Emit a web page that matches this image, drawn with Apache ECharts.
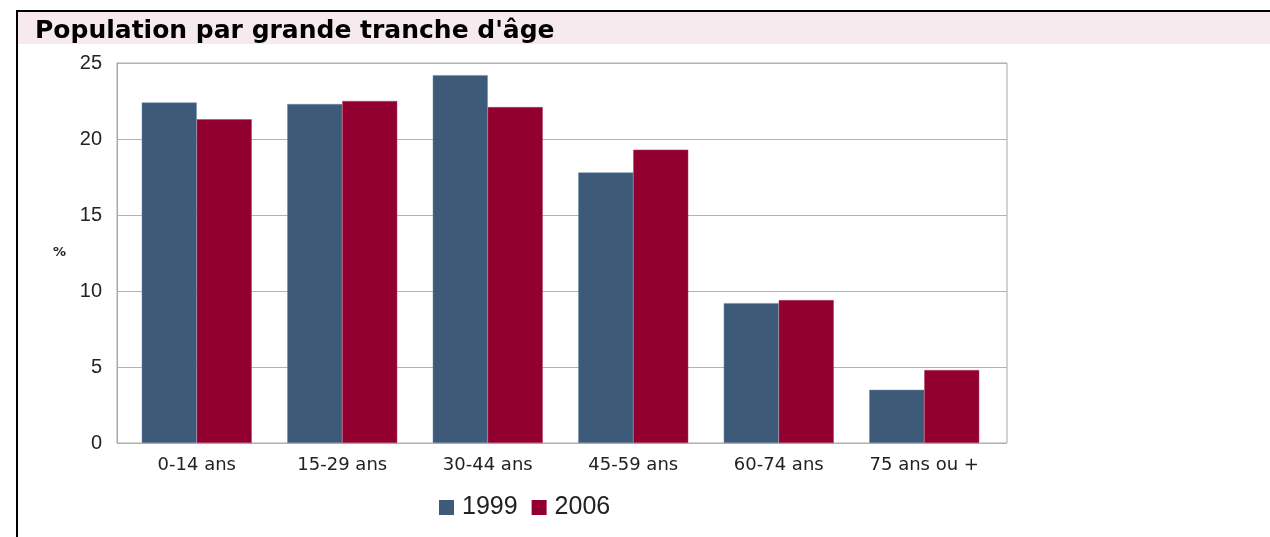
<!DOCTYPE html>
<html><head><meta charset="utf-8">
<script src="https://cdn.jsdelivr.net/npm/echarts@6/dist/echarts.min.js"></script>
<style>html,body{margin:0;padding:0;background:#fff}#c{width:1270px;height:537px}</style>
</head><body><div id="c"></div>
<script>
const categories = ['0-14 ans','15-29 ans','30-44 ans','45-59 ans','60-74 ans','75 ans ou +'];
const values1999 = [22.4, 22.3, 24.2, 17.8, 9.2, 3.5];
const values2006 = [21.3, 22.5, 22.1, 19.3, 9.4, 4.8];
const seriesNames = ['1999','2006'];
const yTicks = {min:0, max:25, interval:5};

const chart = echarts.init(document.getElementById('c'));
chart.setOption({
  animation:false,
  graphic:[
    {type:'rect', shape:{x:18,y:12,width:1252,height:32}, style:{fill:'#f6eaee'}, z:0},
    {type:'rect', shape:{x:17,y:10,width:1253,height:2}, style:{fill:'#000'}, z:1},
    {type:'rect', shape:{x:16,y:10,width:2,height:527}, style:{fill:'#000'}, z:1},
    {type:'text', left:35, top:19, style:{text:"Population par grande tranche d'âge", font:'bold 25px "DejaVu Sans"', fill:'#000'}, z:2},
    {type:'text', left:53, top:246, style:{text:'%', font:'bold 13px "DejaVu Sans"', fill:'#222'}, z:2}
  ],
  grid:[
    {left:117, right:263, top:63, bottom:94, show:true, borderColor:'#a8a8a0', borderWidth:1, backgroundColor:'#fff'},
    {left:124, right:273, top:63, bottom:94}
  ],
  legend:{left:434, top:490, itemWidth:15, itemHeight:15, itemGap:14, icon:'rect',
    itemStyle:{borderWidth:0},
    textStyle:{fontFamily:'Liberation Sans', fontSize:25, color:'#222', padding:[0,0,0,3]},
    data:seriesNames},
  xAxis:[
    {type:'category', gridIndex:0, data:categories, show:false},
    {type:'category', gridIndex:1, data:categories,
     axisLine:{show:false}, axisTick:{show:false},
     axisLabel:{fontFamily:'DejaVu Sans', fontSize:18, color:'#222', margin:13}}
  ],
  yAxis:[
    {type:'value', gridIndex:0, min:yTicks.min, max:yTicks.max, interval:yTicks.interval,
     axisLine:{show:true, lineStyle:{color:'#a8a8a0'}}, axisTick:{show:false},
     splitLine:{lineStyle:{color:'#b4b4ac'}},
     axisLabel:{fontFamily:'Liberation Sans', fontSize:20, color:'#222', margin:15}},
    {type:'value', gridIndex:1, min:yTicks.min, max:yTicks.max, interval:yTicks.interval, show:false, splitLine:{show:false}}
  ],
  series:[
    {name:seriesNames[0], type:'bar', xAxisIndex:1, yAxisIndex:1, data:values1999, barGap:'0%', barCategoryGap:'24.4%',
     itemStyle:{color:'#3d5a79', borderColor:'#6e88a4', borderWidth:0.5}},
    {name:seriesNames[1], type:'bar', xAxisIndex:1, yAxisIndex:1, data:values2006, barGap:'0%', barCategoryGap:'24.4%',
     itemStyle:{color:'#920030', borderColor:'#b04060', borderWidth:0.5}}
  ]
});
</script></body></html>
